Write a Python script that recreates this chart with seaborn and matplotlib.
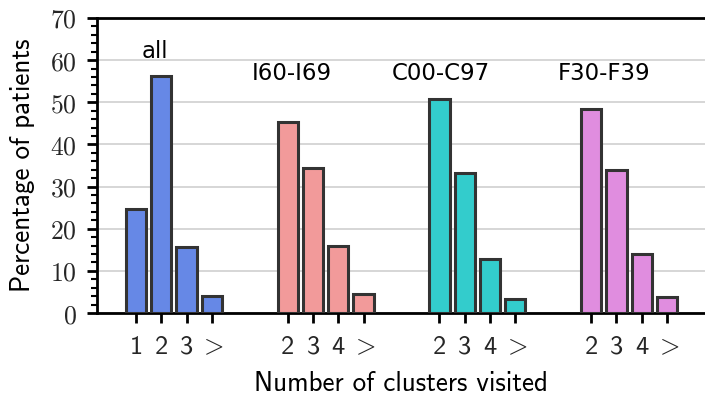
import numpy as np
import pandas as pd
import matplotlib
matplotlib.use("Agg")
import matplotlib.pyplot as plt
import seaborn as sns
from matplotlib.ticker import MultipleLocator

groups = ["all", "I60-I69", "C00-C97", "F30-F39"]
tick_labels = [["1", "2", "3", ">"], ["2", "3", "4", ">"], ["2", "3", "4", ">"], ["2", "3", "4", ">"]]
vals_all = [24.7, 56.2, 15.7, 4.0]
vals_i60 = [45.4, 34.5, 15.8, 4.6]
vals_c00 = [50.8, 33.3, 12.8, 3.3]
vals_f30 = [48.3, 34.0, 13.9, 3.9]
colors = ["#6688e6", "#f29a9a", "#33cccc", "#e08ddf"]

series = [vals_all, vals_i60, vals_c00, vals_f30]
rows = []
positions = []
labels = []
for gi, (g, vals) in enumerate(zip(groups, series)):
    for k, v in enumerate(vals):
        p = gi * 6 + k
        rows.append({"pos": p, "val": v, "group": g})
        positions.append(p)
        t = tick_labels[gi][k]
        labels.append("$>$" if t == ">" else t)
df = pd.DataFrame(rows)

sns.set_style("ticks")
plt.rcParams["mathtext.fontset"] = "cm"
plt.rcParams["axes.unicode_minus"] = False

fig = plt.figure(figsize=(7.05, 3.95), dpi=100)
ax = fig.add_axes([97 / 705, 82 / 395, 608 / 705, 295 / 395])

sns.barplot(data=df, x="pos", y="val", hue="group", native_scale=True,
            palette=colors, saturation=1, dodge=False, width=0.8,
            edgecolor="#333333", linewidth=2.2, legend=False, ax=ax, zorder=3)

ax.set_xlim(-1.54, 22.5)
ax.set_ylim(0, 70)
ax.yaxis.set_minor_locator(MultipleLocator(2))
ax.set_yticks(range(0, 71, 10))
ax.set_yticklabels(["$%d$" % v for v in range(0, 71, 10)], fontsize=18.5)
ax.set_xticks(positions)
ax.set_xticklabels(labels, fontsize=19, family=["cmss10", "DejaVu Sans"])
ax.tick_params(axis="both", which="major", length=7.5, width=2, pad=7, color="black")
ax.tick_params(axis="x", which="major", pad=9)
ax.tick_params(axis="y", which="minor", length=4, width=1.5, color="black")
ax.grid(axis="y", color="#d3d3d3", linewidth=1.3, zorder=0)
ax.set_axisbelow(True)

for s in ["left", "top", "bottom"]:
    ax.spines[s].set_linewidth(2)
    ax.spines[s].set_color("black")
ax.spines["right"].set_visible(False)

lab_font = dict(family=["cmss10", "DejaVu Sans"], size=19.5, color="black")
ax.set_xlabel("Number of clusters visited", fontdict=lab_font, labelpad=9)
ax.set_ylabel("Percentage of patients", fontdict=lab_font, labelpad=11)

label_pos = [(0.75, 62.1), (6.17, 56.9), (12.06, 56.9), (18.5, 56.9)]
for g, (x, y) in zip(groups, label_pos):
    ax.text(x, y, g, ha="center", va="center", fontsize=16.5, color="black")

fig.savefig("out.png", dpi=100)
